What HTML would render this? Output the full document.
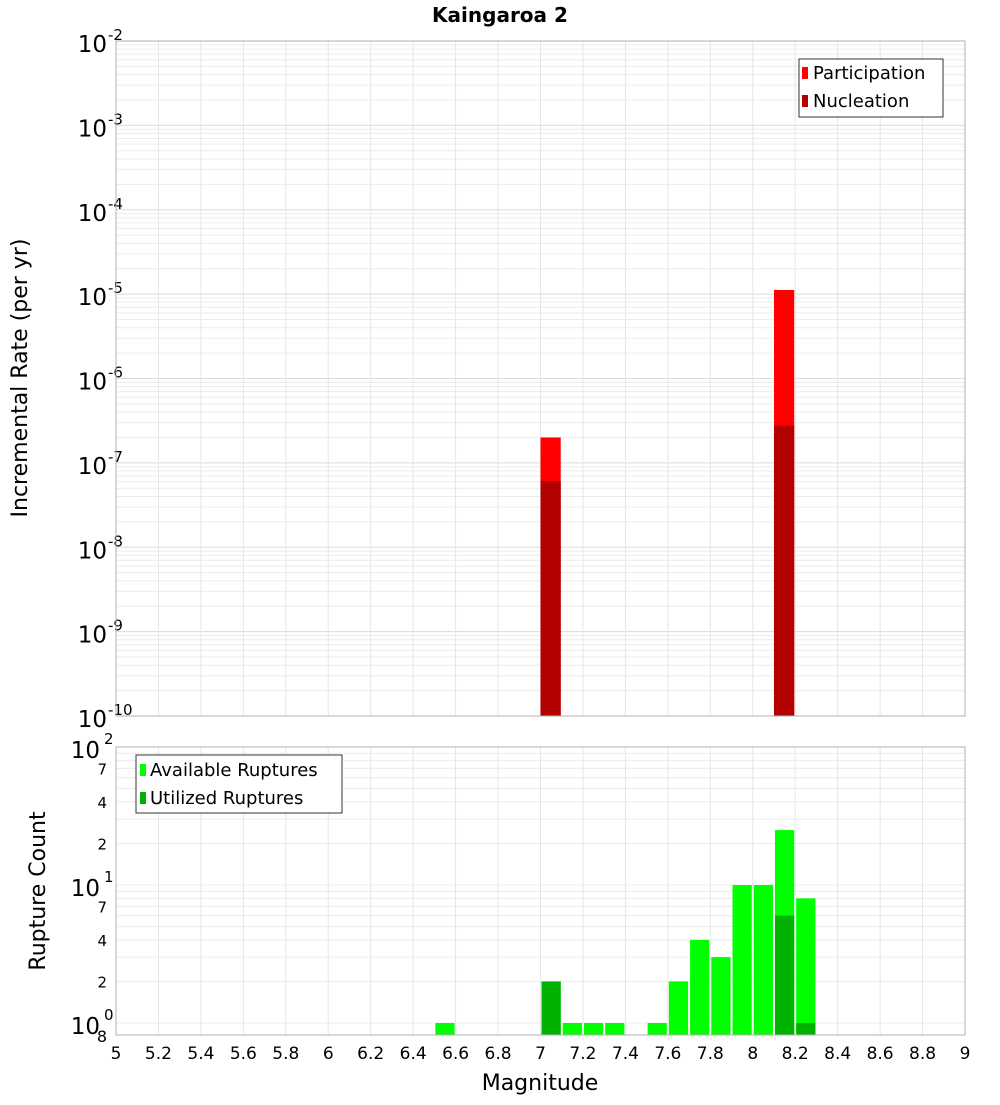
<!DOCTYPE html>
<html><head><meta charset="utf-8"><style>
body{margin:0;background:#fff;}
svg text{font-family:"DejaVu Sans","Liberation Sans",sans-serif;}
</style></head><body>
<svg id="chart" width="1000" height="1100" xmlns="http://www.w3.org/2000/svg">
<text x="500" y="22" text-anchor="middle" font-size="20" font-weight="bold">Kaingaroa 2</text>
<g id="topG"></g>
<g id="botG"></g>
<text transform="translate(27,378) rotate(-90)" text-anchor="middle" font-size="22">Incremental Rate (per yr)</text>
<text transform="translate(45,891) rotate(-90)" text-anchor="middle" font-size="22">Rupture Count</text>
<text x="540" y="1090" text-anchor="middle" font-size="22">Magnitude</text>
</svg>
<script>
const magBins=[7.05,8.15];
const participation=[2.0e-7,1.12e-5];
const nucleation=[6.1e-8,2.75e-7];
const countBins=[6.55,7.05,7.15,7.25,7.35,7.55,7.65,7.75,7.85,7.95,8.05,8.15,8.25];
const available=[1,2,1,1,1,1,2,4,3,10,10,25,8];
const utilizedBins=[7.05,8.15,8.25];
const utilized=[2,6,1];
const xTicks=[5,5.2,5.4,5.6,5.8,6,6.2,6.4,6.6,6.8,7,7.2,7.4,7.6,7.8,8,8.2,8.4,8.6,8.8,9];
const topExps=[-2,-3,-4,-5,-6,-7,-8,-9,-10];
const botMinor=[2,4,7,20,40,70];

const NS="http://www.w3.org/2000/svg";
const X0=116,X1=965;
const x=m=>X0+(m-5)/4*(X1-X0);
const T0=41,T1=716;
const yTop=v=>T0+(-2-Math.log10(v))/8*(T1-T0);
const B0=747,B1=1035;
const yBot=v=>1023-138*Math.log10(v);
function el(p,tag,a,txt){const e=document.createElementNS(NS,tag);for(const k in a)e.setAttribute(k,a[k]);if(txt!==undefined)e.textContent=txt;p.appendChild(e);return e;}
const topG=document.getElementById('topG'),botG=document.getElementById('botG');

let r=el(topG,'rect',{x:X0,y:T0,width:X1-X0,height:T1-T0,fill:'#fff'});


for(let d=-10;d<-2;d++)for(let k=2;k<=9;k++){const yy=yTop(k*Math.pow(10,d));const l=el(topG,'line',{x1:X0,x2:X1,y1:yy,y2:yy,stroke:'#ececec','stroke-width':1});

}
topExps.forEach(e=>{const yy=yTop(Math.pow(10,e));const l=el(topG,'line',{x1:X0,x2:X1,y1:yy,y2:yy,stroke:'#dcdcdc'});


const t=el(topG,'text',{x:107,y:yy+11,'text-anchor':'end','font-size':23},'10');


const s=el(topG,'text',{x:108,y:yy-1,'font-size':15},String(e));

});
xTicks.forEach(m=>{const l=el(topG,'line',{x1:x(m),x2:x(m),y1:T0,y2:T1,stroke:'#e6e6e6'});

});
magBins.forEach((m,i)=>{const xl=x(m-0.05),w=x(m+0.05)-xl-1;
const p=el(topG,'rect',{x:xl,y:yTop(participation[i]),width:w,height:T1-yTop(participation[i]),fill:'#ff0000'});


const n=el(topG,'rect',{x:xl,y:yTop(nucleation[i]),width:w,height:T1-yTop(nucleation[i]),fill:'#b30000'});

});
el(topG,'rect',{x:X0,y:T0,width:X1-X0,height:T1-T0,fill:'none',stroke:'#b0b0b0'});
let lg=el(topG,'g',{});


el(lg,'rect',{x:799,y:59,width:144,height:58,fill:'#fff',stroke:'#333'});
el(lg,'rect',{x:802,y:67,width:6,height:12,fill:'#ff0000'});
el(lg,'text',{x:813,y:79,'font-size':18},'Participation');
el(lg,'rect',{x:802,y:95,width:6,height:12,fill:'#b30000'});
el(lg,'text',{x:813,y:107,'font-size':18},'Nucleation');

r=el(botG,'rect',{x:X0,y:B0,width:X1-X0,height:B1-B0,fill:'#fff'});


for(let d=0;d<2;d++)for(let k=1;k<=9;k++){const v=k*Math.pow(10,d);const yy=yBot(v);const l=el(botG,'line',{x1:X0,x2:X1,y1:yy,y2:yy,stroke:'#ececec'});

}
xTicks.forEach(m=>{const l=el(botG,'line',{x1:x(m),x2:x(m),y1:B0,y2:B1,stroke:'#e6e6e6'});


const t=el(botG,'text',{x:x(m),y:1059,'text-anchor':'middle','font-size':17},String(m));

});
[0,1,2].forEach(e=>{const yy=yBot(Math.pow(10,e));
const t=el(botG,'text',{x:100,y:yy+11,'text-anchor':'end','font-size':23},'10');


const s=el(botG,'text',{x:104,y:yy-3,'font-size':15},String(e));

});
botMinor.forEach(v=>{const t=el(botG,'text',{x:107,y:yBot(v)+6,'text-anchor':'end','font-size':15},String(v)[0]);

});
let t8=el(botG,'text',{x:107,y:1042,'text-anchor':'end','font-size':16},'8');


countBins.forEach((m,i)=>{const xl=x(m-0.05)+1,w=x(m+0.05)-xl-1;const yy=yBot(available[i]);
const b=el(botG,'rect',{x:xl,y:yy,width:w,height:B1-yy,fill:'#00ff00'});

});
utilizedBins.forEach((m,i)=>{const xl=x(m-0.05)+1,w=x(m+0.05)-xl-1;const yy=yBot(utilized[i]);
const b=el(botG,'rect',{x:xl,y:yy,width:w,height:B1-yy,fill:'#00b300'});

});
el(botG,'rect',{x:X0,y:B0,width:X1-X0,height:B1-B0,fill:'none',stroke:'#b0b0b0'});
lg=el(botG,'g',{});


el(lg,'rect',{x:136,y:755,width:206,height:58,fill:'#fff',stroke:'#333'});
el(lg,'rect',{x:140,y:764,width:6,height:12,fill:'#00ff00'});
el(lg,'text',{x:150,y:776,'font-size':18},'Available Ruptures');
el(lg,'rect',{x:140,y:792,width:6,height:12,fill:'#00b300'});
el(lg,'text',{x:150,y:804,'font-size':18},'Utilized Ruptures');
</script>
</body></html>
